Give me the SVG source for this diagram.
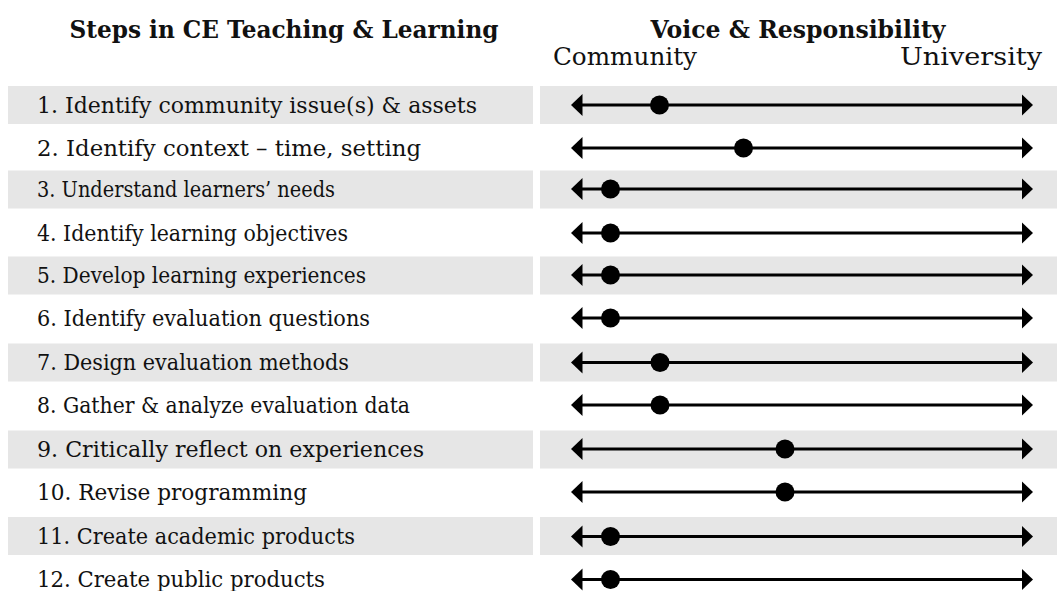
<svg xmlns="http://www.w3.org/2000/svg" width="1057" height="591" viewBox="0 0 1057 591">
<defs>
<marker id="ah" markerUnits="userSpaceOnUse" markerWidth="13" markerHeight="24" viewBox="0 -12 13 24" refX="5.5" refY="0" orient="auto-start-reverse">
<path d="M0,-11 L11.5,0 L0,11 z" fill="#000"/>
</marker>
<style>
.stripe{fill:#e6e6e6}
.hd{font-family:"DejaVu Serif","Liberation Serif",serif;font-weight:bold;font-size:23.5px;fill:#111}
.lbl{font-family:"DejaVu Serif","Liberation Serif",serif;font-size:21.5px;fill:#111}
.end{font-family:"DejaVu Serif","Liberation Serif",serif;font-size:25px;fill:#111}
.ax{stroke:#000;stroke-width:3;fill:none;marker-start:url(#ah);marker-end:url(#ah)}
.dot{fill:#000}
</style>
</defs>
<rect width="1057" height="591" fill="#fff"/>
<g id="stripes">
<rect class="stripe" x="8" y="86" width="525" height="38"/>
<rect class="stripe" x="540" y="86" width="517" height="38"/>
<rect class="stripe" x="8" y="170.5" width="525" height="38"/>
<rect class="stripe" x="540" y="170.5" width="517" height="38"/>
<rect class="stripe" x="8" y="256.5" width="525" height="38"/>
<rect class="stripe" x="540" y="256.5" width="517" height="38"/>
<rect class="stripe" x="8" y="343.5" width="525" height="38"/>
<rect class="stripe" x="540" y="343.5" width="517" height="38"/>
<rect class="stripe" x="8" y="430.5" width="525" height="38"/>
<rect class="stripe" x="540" y="430.5" width="517" height="38"/>
<rect class="stripe" x="8" y="517" width="525" height="38"/>
<rect class="stripe" x="540" y="517" width="517" height="38"/>
</g>
<g id="headers">
<text class="hd" x="284" y="38" text-anchor="middle" textLength="429" lengthAdjust="spacingAndGlyphs">Steps in CE Teaching &amp; Learning</text>
<text class="hd" x="798" y="38" text-anchor="middle" textLength="295" lengthAdjust="spacingAndGlyphs">Voice &amp; Responsibility</text>
<text class="end" x="553" y="65" textLength="144" lengthAdjust="spacingAndGlyphs">Community</text>
<text class="end" x="900" y="65" textLength="142" lengthAdjust="spacingAndGlyphs">University</text>
</g>
<g id="steps">
<text class="lbl" x="37" y="112.5" textLength="440" lengthAdjust="spacingAndGlyphs">1. Identify community issue(s) &amp; assets</text>
<text class="lbl" x="37" y="155.5" textLength="384" lengthAdjust="spacingAndGlyphs">2. Identify context – time, setting</text>
<text class="lbl" x="37" y="196.5" textLength="298" lengthAdjust="spacingAndGlyphs">3. Understand learners’ needs</text>
<text class="lbl" x="37" y="240.5" textLength="311" lengthAdjust="spacingAndGlyphs">4. Identify learning objectives</text>
<text class="lbl" x="37" y="282.5" textLength="329" lengthAdjust="spacingAndGlyphs">5. Develop learning experiences</text>
<text class="lbl" x="37" y="325.5" textLength="333" lengthAdjust="spacingAndGlyphs">6. Identify evaluation questions</text>
<text class="lbl" x="37" y="370" textLength="312" lengthAdjust="spacingAndGlyphs">7. Design evaluation methods</text>
<text class="lbl" x="37" y="412.5" textLength="373" lengthAdjust="spacingAndGlyphs">8. Gather &amp; analyze evaluation data</text>
<text class="lbl" x="37" y="456.5" textLength="387" lengthAdjust="spacingAndGlyphs">9. Critically reflect on experiences</text>
<text class="lbl" x="37" y="499.5" textLength="270" lengthAdjust="spacingAndGlyphs">10. Revise programming</text>
<text class="lbl" x="37" y="544" textLength="318" lengthAdjust="spacingAndGlyphs">11. Create academic products</text>
<text class="lbl" x="37" y="587" textLength="288" lengthAdjust="spacingAndGlyphs">12. Create public products</text>
</g>
<g id="connectors">
<line class="ax" x1="577" y1="105" x2="1027" y2="105"/>
<line class="ax" x1="577" y1="148" x2="1027" y2="148"/>
<line class="ax" x1="577" y1="189" x2="1027" y2="189"/>
<line class="ax" x1="577" y1="233" x2="1027" y2="233"/>
<line class="ax" x1="577" y1="275" x2="1027" y2="275"/>
<line class="ax" x1="577" y1="318" x2="1027" y2="318"/>
<line class="ax" x1="577" y1="362.5" x2="1027" y2="362.5"/>
<line class="ax" x1="577" y1="405" x2="1027" y2="405"/>
<line class="ax" x1="577" y1="449" x2="1027" y2="449"/>
<line class="ax" x1="577" y1="492" x2="1027" y2="492"/>
<line class="ax" x1="577" y1="536.5" x2="1027" y2="536.5"/>
<line class="ax" x1="577" y1="579.5" x2="1027" y2="579.5"/>
</g>
<g id="markers">
<circle class="dot" cx="659.5" cy="105" r="9.5"/>
<circle class="dot" cx="743.5" cy="148" r="9.5"/>
<circle class="dot" cx="610.5" cy="189" r="9.5"/>
<circle class="dot" cx="610.5" cy="233" r="9.5"/>
<circle class="dot" cx="610.5" cy="275" r="9.5"/>
<circle class="dot" cx="610.5" cy="318" r="9.5"/>
<circle class="dot" cx="660" cy="362.5" r="9.5"/>
<circle class="dot" cx="660" cy="405" r="9.5"/>
<circle class="dot" cx="785" cy="449" r="9.5"/>
<circle class="dot" cx="785" cy="492" r="9.5"/>
<circle class="dot" cx="610.5" cy="536.5" r="9.5"/>
<circle class="dot" cx="610.5" cy="579.5" r="9.5"/>
</g>
</svg>
